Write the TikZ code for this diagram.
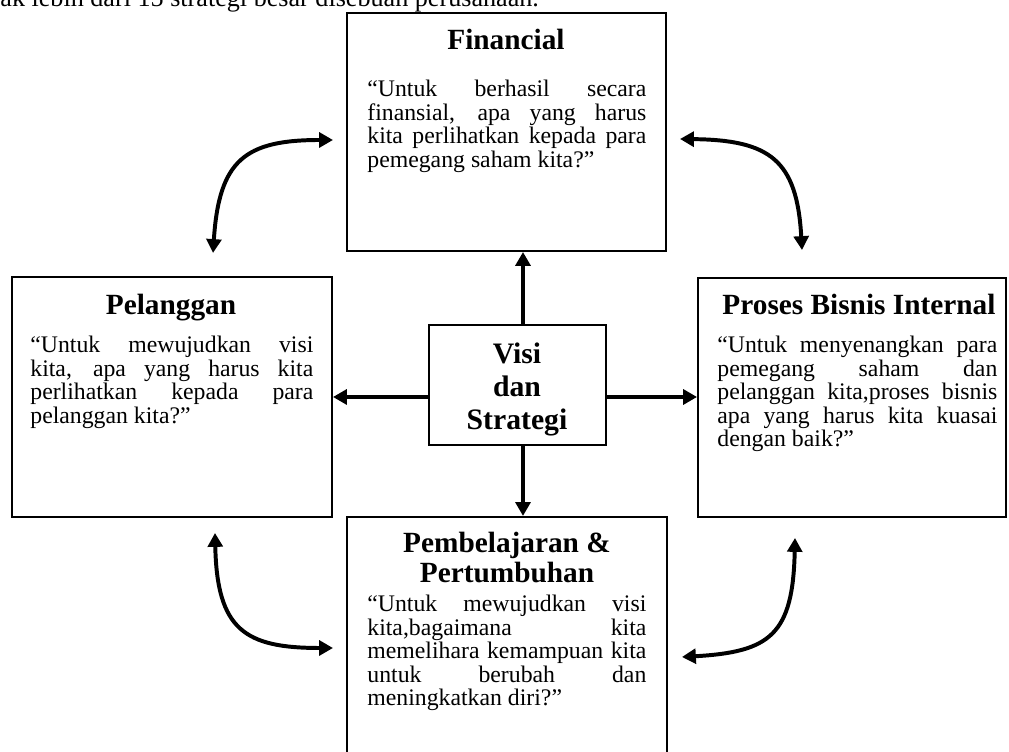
\documentclass[tikz,border=0pt]{standalone}
\usepackage{fontspec}
\setmainfont{Liberation Serif}
\usetikzlibrary{arrows.meta}
\tolerance=10000
\hbadness=10000

\tikzset{
  kotak/.style={draw, line width=1pt, inner sep=0pt},
  isi/.style={inner sep=0pt, align=justify, font=\fontsize{12}{11.8}\selectfont},
  judul/.style={inner sep=0pt, align=center, font=\fontsize{14.8}{15.2}\selectfont\bfseries},
  panah/.style={line width=2pt, -{Triangle[length=7pt,width=7.5pt]}},
  panahdua/.style={line width=2pt, {Triangle[length=7pt,width=7.5pt]}-{Triangle[length=7pt,width=7.5pt]}},
}

\begin{document}
\begin{tikzpicture}[x=0.505pt,y=0.505pt,yscale=-1,xscale=1]
\useasboundingbox (0,0) rectangle (1009,752);

% Text Node
\draw (0,7) node [anchor=base west, inner sep=0pt, font=\fontsize{13.2}{15}\selectfont] (atas) {ak lebih dari 15 strategi besar disebuah perusahaan.};

%Shape: Rectangle [Financial]
\draw (506.5,132) node [kotak, minimum width=161.1pt, minimum height=120.2pt] (fin) {};
%Shape: Rectangle [Pelanggan]
\draw (172,397) node [kotak, minimum width=161.6pt, minimum height=121.2pt] (pel) {};
%Shape: Rectangle [Proses Bisnis Internal]
\draw (852,397.5) node [kotak, minimum width=155.5pt, minimum height=120.7pt] (pro) {};
%Shape: Rectangle [Visi dan Strategi]
\draw (517.5,385) node [kotak, minimum width=89.4pt, minimum height=60.6pt] (vis) {};
%Shape: Rectangle [Pembelajaran]
\draw (507,643.5) node [kotak, minimum width=161.6pt, minimum height=127.8pt] (pem) {};

% Text Node
\draw (506,50) node [anchor=base, judul] (finj) {Financial};
% Text Node
\draw (367,97) node [anchor=base west, isi, text width=140.9pt] (fint) {“Untuk berhasil secara\linebreak finansial, apa yang harus\linebreak kita perlihatkan kepada para\linebreak pemegang saham kita?”};
% Text Node
\draw (171,315) node [anchor=base, judul] (pelj) {Pelanggan};
% Text Node
\draw (30,353) node [anchor=base west, isi, text width=142.9pt] (pelt) {“Untuk mewujudkan visi\linebreak kita, apa yang harus kita\linebreak perlihatkan kepada para\linebreak pelanggan kita?”};
% Text Node
\draw (859,315) node [anchor=base, judul] (proj) {Proses Bisnis Internal};
% Text Node
\draw (717,353) node [anchor=base west, isi, text width=141.4pt] (prot) {“Untuk menyenangkan para\linebreak pemegang saham dan\linebreak pelanggan kita,proses bisnis\linebreak apa yang harus kita kuasai\linebreak dengan baik?”};
% Text Node
\draw (517,430) node [anchor=base, judul, font=\fontsize{15}{16.9}\selectfont\bfseries] (visj) {Visi\\dan\\Strategi};
% Text Node
\draw (507,583) node [anchor=base, judul] (pemj) {Pembelajaran \&\\Pertumbuhan};
% Text Node
\draw (367,612) node [anchor=base west, isi, text width=140.9pt] (pemt) {“Untuk mewujudkan visi\linebreak kita,bagaimana kita\linebreak memelihara kemampuan kita\linebreak untuk berubah dan\linebreak meningkatkan diri?”};

%Straight Lines
\coordinate (vx) at (523,0);
\coordinate (vy) at (0,397);
\draw [panah] (vis.north -| vx) -- (fin.south -| vx);
\draw [panah] (vis.south -| vx) -- (pem.north -| vx);
\draw [panah] (vis.west |- vy) -- (pel.east |- vy);
\draw [panah] (vis.east |- vy) -- (pro.west |- vy);

%Curve Lines
\coordinate (ka1) at (333,140);
\coordinate (ka2) at (213,253);
\coordinate (ka3) at (680,139);
\coordinate (ka4) at (802,250);
\coordinate (kb1) at (215,533);
\coordinate (kb2) at (333,648);
\coordinate (kb3) at (795,538);
\coordinate (kb4) at (682,657);
\draw [panahdua] (ka2) .. controls (219,160) and (245,140) .. (ka1);
\draw [panahdua] (ka3) .. controls (770,140) and (797,160) .. (ka4);
\draw [panahdua] (kb1) .. controls (217,630) and (245,648) .. (kb2);
\draw [panahdua] (kb3) .. controls (793,635) and (770,652) .. (kb4);

\end{tikzpicture}
\end{document}
